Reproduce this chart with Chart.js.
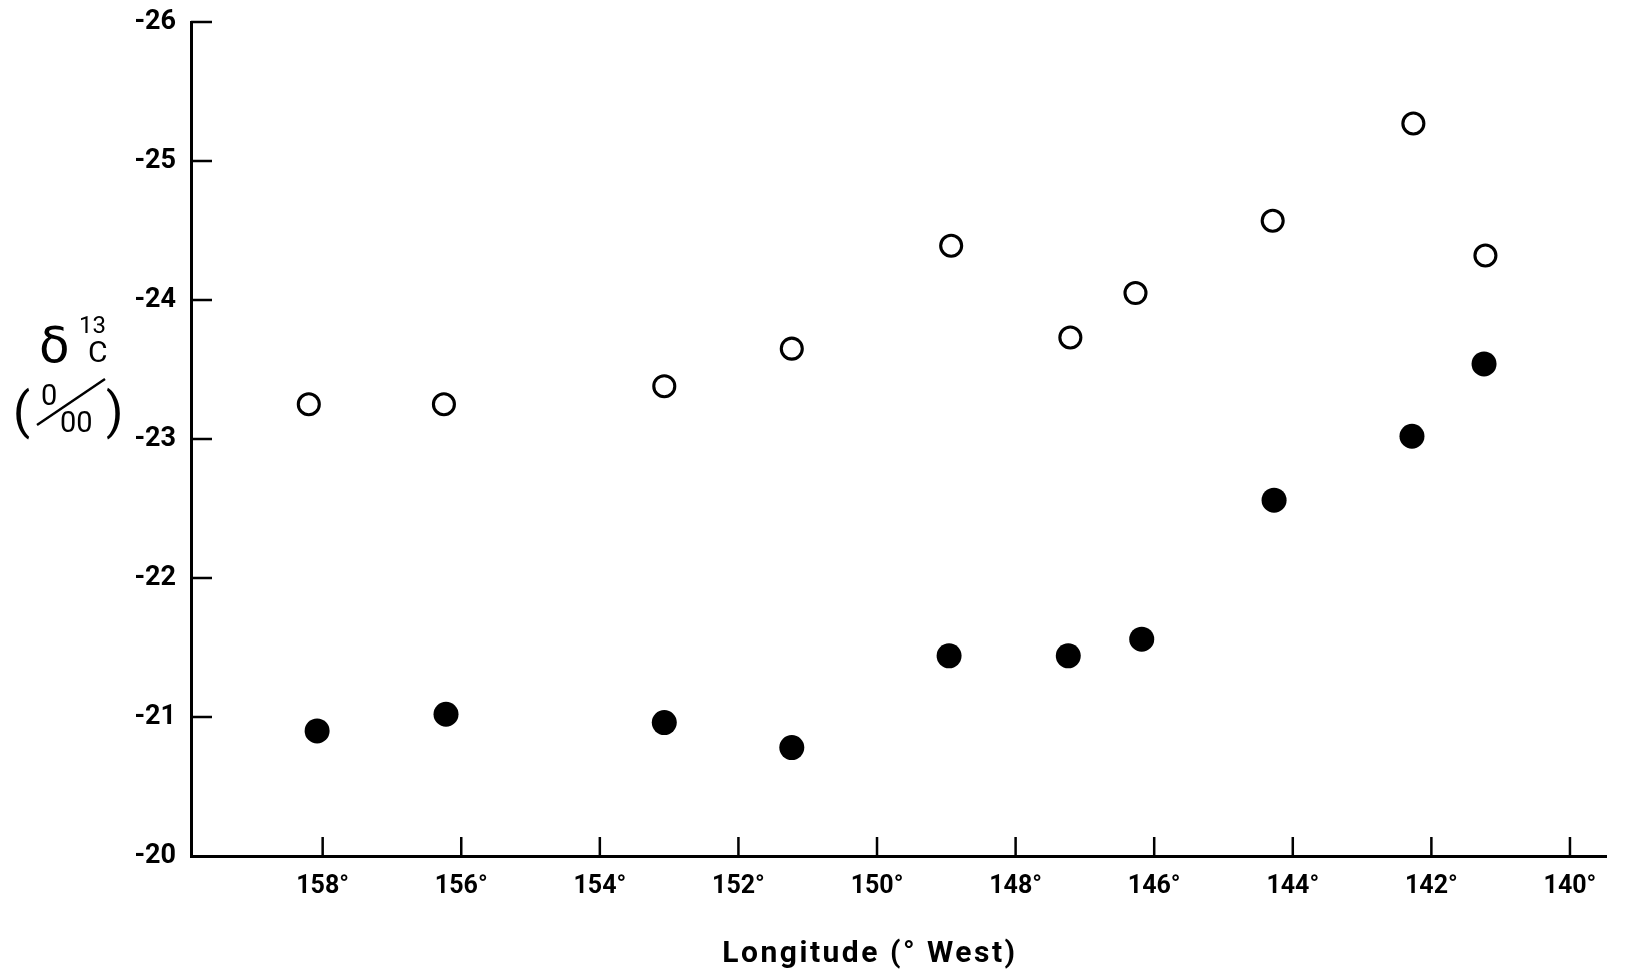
<!DOCTYPE html>
<html>
<head>
<meta charset="utf-8">
<title>d13C vs longitude</title>
<script src="https://cdn.jsdelivr.net/npm/chart.js@4.4.1/dist/chart.umd.min.js"></script>
<style>
  body { margin: 0; background: #fff; }
  #wrap { width: 1643px; height: 971px; position: relative; }
</style>
</head>
<body>
<div id="wrap"><canvas id="myChart"></canvas></div>
<script>
// open circles
var lonOpen = [158.20, 156.25, 153.07, 151.23, 148.93, 147.21, 146.27, 144.29, 142.26, 141.22];
var d13cOpen = [-23.25, -23.25, -23.38, -23.65, -24.39, -23.73, -24.05, -24.57, -25.27, -24.32];

// filled circles
var lonFilled = [158.08, 156.22, 153.07, 151.23, 148.96, 147.24, 146.18, 144.27, 142.28, 141.24];
var d13cFilled = [-20.90, -21.02, -20.96, -20.78, -21.44, -21.44, -21.56, -22.56, -23.02, -23.54];

// axis ticks
var xTickValues = [158, 156, 154, 152, 150, 148, 146, 144, 142, 140];
var xTickLabels = ['158°', '156°', '154°', '152°', '150°', '148°', '146°', '144°', '142°', '140°'];
var yTickValues = [-26, -25, -24, -23, -22, -21, -20];

var xTitle = 'Longitude (° West)';

function toPoints(xs, ys) {
  var pts = [];
  for (var i = 0; i < xs.length; i++) {
    pts.push({ x: xs[i], y: ys[i] });
  }
  return pts;
}

var FONT = 'Roboto, "DejaVu Sans", sans-serif';

// inward tick marks + axis titles
var extras = {
  id: 'extras',
  afterDraw: function (chart) {
    var ctx = chart.ctx;
    var xs = chart.scales.x, ys = chart.scales.y;
    var area = chart.chartArea;
    ctx.save();
    ctx.strokeStyle = '#000';
    ctx.lineWidth = 2.5;
    ctx.beginPath();
    xTickValues.forEach(function (v) {
      var px = xs.getPixelForValue(v);
      ctx.moveTo(px, area.bottom);
      ctx.lineTo(px, area.bottom - 19);
    });
    yTickValues.forEach(function (v) {
      if (v === -20) return;
      var py = ys.getPixelForValue(v);
      ctx.moveTo(area.left, py);
      ctx.lineTo(area.left + 21, py);
    });
    ctx.stroke();

    ctx.fillStyle = '#000';
    ctx.textBaseline = 'alphabetic';
    ctx.textAlign = 'center';
    ctx.font = 'bold 30px ' + FONT;
    ctx.letterSpacing = '2.5px';
    ctx.fillText(xTitle, 870, 962);
    ctx.letterSpacing = '0px';

    // y title: delta 13C over per mil
    ctx.textAlign = 'left';
    ctx.font = '50px "DejaVu Sans", sans-serif';
    ctx.fillText('δ', 39, 362);
    ctx.font = '24px ' + FONT;
    ctx.fillText('13', 79, 333);
    ctx.font = '30px ' + FONT;
    ctx.fillText('C', 88, 362);
    ctx.font = '50px ' + FONT;
    ctx.fillText('(', 13, 428);
    ctx.fillText(')', 106, 428);
    ctx.font = '29px ' + FONT;
    ctx.fillText('0', 41, 405);
    ctx.fillText('00', 60, 432);
    ctx.beginPath();
    ctx.lineWidth = 2.5;
    ctx.moveTo(37, 425);
    ctx.lineTo(105, 379);
    ctx.stroke();
    ctx.restore();
  }
};

var ctx = document.getElementById('myChart').getContext('2d');
var chart = new Chart(ctx, {
  type: 'scatter',
  data: {
    datasets: [{
      label: 'open',
      data: toPoints(lonOpen, d13cOpen),
      pointStyle: 'circle',
      pointRadius: 10.5,
      pointBorderWidth: 3.1,
      pointBackgroundColor: '#fff',
      pointBorderColor: '#000'
    }, {
      label: 'filled',
      data: toPoints(lonFilled, d13cFilled),
      pointStyle: 'circle',
      pointRadius: 12.5,
      pointBorderWidth: 0,
      pointBackgroundColor: '#000',
      pointBorderColor: '#000'
    }]
  },
  options: {
    responsive: true,
    maintainAspectRatio: false,
    animation: false,
    layout: { padding: { left: 0, right: 37, top: 22, bottom: 0 } },
    plugins: {
      legend: { display: false },
      tooltip: { enabled: false }
    },
    scales: {
      x: {
        type: 'linear',
        reverse: true,
        min: 139.48,
        max: 159.9,
        afterBuildTicks: function (scale) {
          scale.ticks = xTickValues.map(function (v) { return { value: v }; });
        },
        afterFit: function (scale) {
          scale.height = 115;
          scale.paddingLeft = 0;
          scale.paddingRight = 0;
        },
        grid: { display: true, drawOnChartArea: false, drawTicks: false },
        border: { display: true, color: '#000', width: 3 },
        ticks: {
          color: '#000',
          padding: 16,
          maxRotation: 0,
          font: { family: FONT, size: 25, weight: 'bold' },
          callback: function (value) {
            var i = xTickValues.indexOf(value);
            return i >= 0 ? xTickLabels[i] : '';
          }
        }
      },
      y: {
        type: 'linear',
        reverse: true,
        min: -26,
        max: -20,
        afterBuildTicks: function (scale) {
          scale.ticks = yTickValues.map(function (v) { return { value: v }; });
        },
        afterFit: function (scale) {
          scale.width = 191;
          scale.paddingTop = 0;
          scale.paddingBottom = 0;
        },
        grid: { display: true, drawOnChartArea: false, drawTicks: false },
        border: { display: true, color: '#000', width: 3 },
        ticks: {
          color: '#000',
          padding: 15,
          font: { family: FONT, size: 27, weight: 'bold' }
        }
      }
    }
  },
  plugins: [extras]
});
</script>
</body>
</html>
